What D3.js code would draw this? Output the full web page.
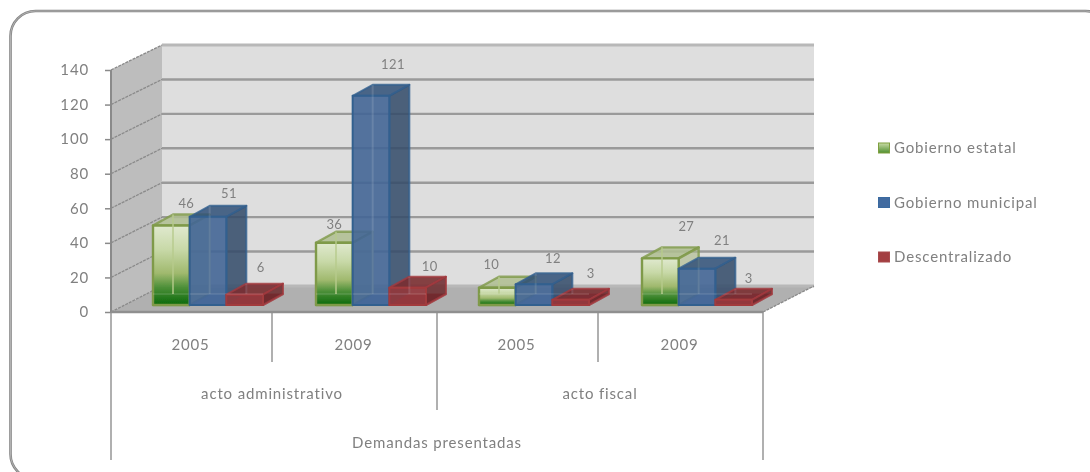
<!DOCTYPE html>
<html lang="es">
<head>
  <meta charset="UTF-8">
  <title>Demandas presentadas</title>
  <script src="https://d3js.org/d3.v7.min.js"></script>
  <style>
    body { margin: 0; background: #fff; overflow: hidden; }
    svg { display: block; }
    text { font-family: Lato, "Open Sans", sans-serif; fill: #808080; font-size: 15px; letter-spacing: 0.85px; filter: blur(0.3px); }
    .val { font-size: 13px; letter-spacing: 0.4px; }
  </style>
</head>
<body>
  <svg id="chart" width="1090" height="472"></svg>

  <script>
    const years = ["2005", "2009", "2005", "2009"];
    const actos = ["acto administrativo", "acto fiscal"];
    const outerLabel = "Demandas presentadas";
    const seriesNames = ["Gobierno estatal", "Gobierno municipal", "Descentralizado"];
    const estatal = [46, 36, 10, 27];
    const municipal = [51, 121, 12, 21];
    const descentralizado = [6, 10, 3, 3];
    const yTicks = [0, 20, 40, 60, 80, 100, 120, 140];

    // label nudges, excel moved these around by hand
    const nudgeX = [[-6, 0, -5], [-21, 1, 1], [-27, -2, -1], [5, 4, -6]];
    const nudgeY = [[5, 4, 0], [9, -4, 6], [4, 1, 1], [-5, -1, 6]];

    const svg = d3.select("#chart");
    const allSeries = [estatal, municipal, descentralizado];

    // front plane scales
    const x0 = d3.scaleBand().domain(d3.range(years.length)).range([111, 763]);
    const x1 = d3.scaleBand().domain(d3.range(seriesNames.length)).range([42, 152]);
    const y = d3.scaleLinear().domain([0, 140]).range([312, 70]);
    const yBack = d3.scaleLinear().domain([0, 140]).range([286, 45]);

    const wallDx = 51;
    const barDx = 20, barDy = -11, baseLift = 7;

    const defs = svg.append("defs");
    const grad = defs.append("linearGradient").attr("id", "greenFront")
      .attr("x1", 0).attr("x2", 0).attr("y1", 0).attr("y2", 1);
    [[0, "#e0e9cf"], [0.3, "#c8d9a8"], [0.6, "#a0b96e"], [0.78, "#4c8f38"], [1, "#0b690b"]].forEach(s => {
      grad.append("stop").attr("offset", s[0]).attr("stop-color", s[1]);
    });
    const lgrad = defs.append("linearGradient").attr("id", "greenLegend")
      .attr("x1", 0).attr("x2", 0).attr("y1", 0).attr("y2", 1);
    [[0, "#c9dba6"], [1, "#4f8f2f"]].forEach(s => {
      lgrad.append("stop").attr("offset", s[0]).attr("stop-color", s[1]);
    });
    defs.append("filter").attr("id", "soft").append("feGaussianBlur").attr("stdDeviation", 0.5);

    // outer frame, runs off the page on the right and bottom
    svg.append("rect").attr("x", 10.5).attr("y", 11).attr("width", 1100).attr("height", 468)
      .attr("rx", 25).attr("fill", "#fff").attr("stroke", "#858585").attr("stroke-width", 2.6);
    svg.append("rect").attr("x", 10.5).attr("y", 11).attr("width", 1100).attr("height", 468)
      .attr("rx", 25).attr("fill", "none").attr("stroke", "#c4c4c4").attr("stroke-width", 0.7);

    const plot = svg.append("g").attr("filter", "url(#soft)");
    const poly = pts => pts.map(p => p.join(",")).join(" ");

    // walls and floor
    const xL = x0.range()[0], xR = x0.range()[1];
    plot.append("polygon")
      .attr("points", poly([[xL + wallDx, yBack(140)], [xR + wallDx, yBack(140)], [xR + wallDx, yBack(0)], [xL + wallDx, yBack(0)]]))
      .attr("fill", "#dedede");
    plot.append("polygon")
      .attr("points", poly([[xL, y(140)], [xL + wallDx, yBack(140)], [xL + wallDx, yBack(0)], [xL, y(0)]]))
      .attr("fill", "#bdbdbd");
    plot.append("polygon")
      .attr("points", poly([[xL, y(0)], [xL + wallDx, yBack(0)], [xR + wallDx, yBack(0)], [xR, y(0)]]))
      .attr("fill", "#b0b0b0");

    // gridlines
    yTicks.forEach(t => {
      plot.append("line").attr("x1", xL + wallDx).attr("x2", xR + wallDx)
        .attr("y1", yBack(t)).attr("y2", yBack(t))
        .attr("stroke", t === 140 || t === 0 ? "#b8b8b8" : "#9a9a9a").attr("stroke-width", t === 140 || t === 0 ? 3 : 2.4);
      plot.append("line").attr("x1", xL).attr("x2", xL + wallDx)
        .attr("y1", y(t)).attr("y2", yBack(t))
        .attr("stroke", "#8a8a8a").attr("stroke-width", 1.3).attr("stroke-dasharray", "3 1");
    });
    // right hand edge of the floor
    plot.append("line").attr("x1", xR).attr("x2", xR + wallDx)
      .attr("y1", y(0)).attr("y2", yBack(0))
      .attr("stroke", "#8a8a8a").attr("stroke-width", 1.3).attr("stroke-dasharray", "3 1");

    // value axis, drawn by d3 then restyled
    const yAxis = svg.append("g").attr("transform", `translate(${xL},0)`)
      .call(d3.axisLeft(y).tickValues(yTicks).tickSize(6).tickPadding(16));
    yAxis.select(".domain").attr("stroke", "#8a8a8a").attr("stroke-width", 2).attr("d", `M0,${y(140)}V${y(0)}`);
    yAxis.selectAll(".tick line").attr("stroke", "#8a8a8a").attr("stroke-width", 1.5);
    yAxis.selectAll(".tick text").attr("fill", null);
    yAxis.attr("font-family", null).attr("font-size", null);

    // bars
    const colors = [
      { front: "url(#greenFront)", edge: "#7f9a4a", side: "rgba(170,185,135,0.6)", top: "rgba(175,190,145,0.85)", floor: "rgba(170,190,130,0.6)" },
      { front: "rgba(68,102,150,0.9)", edge: "#33608f", side: "rgba(50,74,104,0.85)", top: "rgba(48,80,120,0.85)", floor: "rgba(90,130,180,0.9)" },
      { front: "rgba(148,55,60,0.9)", edge: "#a23a3e", side: "rgba(108,40,44,0.85)", top: "rgba(122,46,50,0.9)", floor: "rgba(140,55,58,0.9)" }
    ];

    years.forEach((yr, i) => {
      allSeries.forEach((vals, s) => {
        const v = vals[i], c = colors[s];
        const a = x0(i) + x1(s), b = a + x1.bandwidth();
        const base = y(0) - baseLift, top = y(v) - baseLift;
        const g = plot.append("g").attr("stroke", c.edge).attr("stroke-width", s === 0 ? 2.4 : 2).attr("stroke-linejoin", "round");
        // back edges seen through the faces
        g.append("polygon").attr("points", poly([[a, base], [b, base], [b + barDx, base + barDy], [a + barDx, base + barDy]]))
          .attr("fill", c.floor).attr("stroke-opacity", 0.4);
        g.append("polygon").attr("points", poly([[a, top], [b, top], [b + barDx, top + barDy], [a + barDx, top + barDy]]))
          .attr("fill", c.top).attr("stroke-opacity", 0.8);
        g.append("polygon").attr("points", poly([[b, top], [b + barDx, top + barDy], [b + barDx, base + barDy], [b, base]]))
          .attr("fill", c.side).attr("stroke-opacity", 0.8);
        g.append("rect").attr("x", a).attr("y", top).attr("width", b - a).attr("height", base - top)
          .attr("fill", c.front);
        g.append("line").attr("x1", a + barDx).attr("x2", a + barDx).attr("y1", top + barDy).attr("y2", base + barDy)
          .attr("stroke", s === 0 ? "#b6ca8c" : "#fff").attr("stroke-opacity", s === 0 ? 0.7 : 0.12).attr("stroke-width", 2);
        g.append("line").attr("x1", a).attr("x2", b).attr("y1", base + barDy).attr("y2", base + barDy)
          .attr("stroke", "#fff").attr("stroke-opacity", 0.1).attr("stroke-width", 2);
      });
    });

    // data labels
    years.forEach((yr, i) => {
      allSeries.forEach((vals, s) => {
        svg.append("text").attr("class", "val").attr("text-anchor", "middle")
          .attr("x", x0(i) + x1(s) + x1.bandwidth() / 2 + 21 + nudgeX[i][s])
          .attr("y", y(vals[i]) - baseLift + barDy - 16 + nudgeY[i][s])
          .attr("dy", "0.35em")
          .text(vals[i]);
      });
    });

    // category axis with its three levels
    const axisStroke = "#8f8f8f";
    const bottom = svg.append("g");
    bottom.append("line").attr("x1", xL).attr("x2", xR).attr("y1", y(0)).attr("y2", y(0))
      .attr("stroke", axisStroke).attr("stroke-width", 2.4);
    const sep = (x, yEnd) => bottom.append("line").attr("x1", x).attr("x2", x).attr("y1", y(0)).attr("y2", yEnd)
      .attr("stroke", axisStroke).attr("stroke-width", 1.4);
    sep(xL, 460); sep(xR, 460);
    sep(x0(1) - 2, 362); sep(x0(3) - 2, 362);
    sep(x0(2), 410);

    years.forEach((yr, i) => {
      bottom.append("text").attr("text-anchor", "middle").attr("x", x0(i) + x0.bandwidth() / 2 - 2)
        .attr("y", 345).attr("dy", "0.35em").text(yr);
    });
    actos.forEach((a, i) => {
      bottom.append("text").attr("text-anchor", "middle").attr("x", x0(i * 2) + x0.bandwidth() - (i === 0 ? 2 : 0))
        .attr("y", 394).attr("dy", "0.35em").text(a);
    });
    bottom.append("text").attr("text-anchor", "middle").attr("x", (xL + xR) / 2)
      .attr("y", 443).attr("dy", "0.35em").text(outerLabel);

    // legend
    const legendY = d3.scalePoint().domain(seriesNames).range([148, 257]);
    const legendFill = ["url(#greenLegend)", "#426ba0", "#a33f42"];
    const legendEdge = ["#7f9f3f", "#3a6aa0", "#a84a4c"];
    seriesNames.forEach((name, s) => {
      svg.append("rect").attr("x", 878.5).attr("y", legendY(name) - 5).attr("width", 11).attr("height", 10)
        .attr("fill", legendFill[s]).attr("stroke", legendEdge[s]);
      svg.append("text").attr("x", 894).attr("y", legendY(name)).attr("dy", "0.35em").text(name);
    });
  </script>
</body>
</html>
